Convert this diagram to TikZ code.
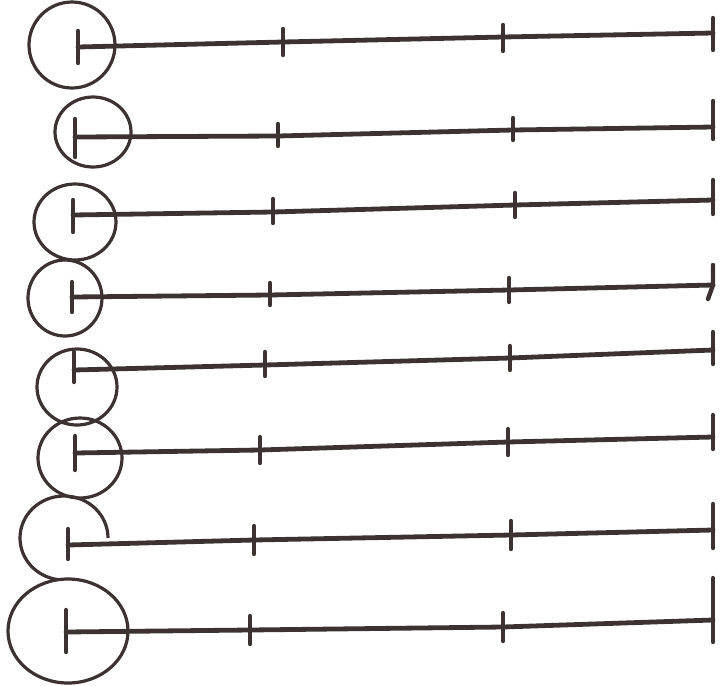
\documentclass[tikz,border=0pt]{standalone}
\usepackage{tikz}
\definecolor{pencil}{HTML}{3C3232}
\tikzset{
    rod/.style={draw=pencil, line width=0.12cm, line cap=round, line join=round},
    notch/.style={draw=pencil, line width=0.11cm, line cap=round, line join=round},
    ring/.style={draw=pencil, line width=0.08cm},
}

\begin{document}
\begin{tikzpicture}[x=0.025cm, y=-0.025cm]
\useasboundingbox (0,0) rectangle (723,685);

% row 1
\coordinate (s1) at (78,47);
\coordinate (a1) at (283,42);
\coordinate (b1) at (503,37);
\coordinate (e1) at (713,33);
\draw[ring] (72,45) circle[radius=43];
\draw[rod] (s1) -- (a1) -- (b1) -- (e1);
\draw[notch] (s1) ++(0,-16) -- ++(0,32);
\draw[notch] (a1) ++(0,-13) -- ++(0,26);
\draw[notch] (b1) ++(0,-12) -- ++(0,26);
\draw[notch] (e1) ++(0,-15) -- ++(0,32);

% row 2
\coordinate (s2) at (75,137);
\coordinate (a2) at (278,136);
\coordinate (b2) at (513,130);
\coordinate (e2) at (713,127);
\draw[ring] (93,132) ellipse[x radius=38, y radius=35];
\draw[rod] (s2) -- (a2) -- (b2) -- (e2);
\draw[notch] (s2) ++(0,-18) -- ++(0,38);
\draw[notch] (a2) ++(0,-12) -- ++(0,22);
\draw[notch] (b2) ++(0,-12) -- ++(0,22);
\draw[notch] (e2) ++(0,-26) -- ++(0,38);

% row 3
\coordinate (s3) at (73,215);
\coordinate (a3) at (273,212);
\coordinate (b3) at (515,205);
\coordinate (e3) at (713,200);
\draw[ring] (75,222) ellipse[x radius=41, y radius=38];
\draw[rod] (s3) -- (a3) -- (b3) -- (e3);
\draw[notch] (s3) ++(0,-15) -- ++(0,32);
\draw[notch] (a3) ++(0,-13) -- ++(0,24);
\draw[notch] (b3) ++(0,-12) -- ++(0,24);
\draw[notch] (e3) ++(0,-20) -- ++(0,34);

% row 4
\coordinate (s4) at (72,297);
\coordinate (a4) at (270,295);
\coordinate (b4) at (509,290);
\coordinate (e4) at (713,285);
\draw[ring] (65,298) ellipse[x radius=37, y radius=38];
\draw[rod] (s4) -- (a4) -- (b4) -- (e4);
\draw[notch] (s4) ++(0,-15) -- ++(0,30);
\draw[notch] (a4) ++(0,-12) -- ++(0,22);
\draw[notch] (b4) ++(0,-12) -- ++(0,24);
\draw[notch] (e4) ++(0,-20) -- ++(0,20) -- ++(-5,14);

% row 5
\coordinate (s5) at (74,370);
\coordinate (a5) at (265,365);
\coordinate (b5) at (510,358);
\coordinate (e5) at (713,350);
\draw[ring] (77,387) ellipse[x radius=40, y radius=38];
\draw[rod] (s5) -- (a5) -- (b5) -- (e5);
\draw[notch] (s5) ++(0,-18) -- ++(0,30);
\draw[notch] (a5) ++(0,-13) -- ++(0,24);
\draw[notch] (b5) ++(0,-12) -- ++(0,24);
\draw[notch] (e5) ++(0,-18) -- ++(0,32);

% row 6
\coordinate (s6) at (75,453);
\coordinate (a6) at (260,450);
\coordinate (b6) at (508,442);
\coordinate (e6) at (713,437);
\draw[ring] (80,458) ellipse[x radius=42, y radius=40];
\draw[rod] (s6) -- (a6) -- (b6) -- (e6);
\draw[notch] (s6) ++(0,-17) -- ++(0,34);
\draw[notch] (a6) ++(0,-13) -- ++(0,26);
\draw[notch] (b6) ++(0,-13) -- ++(0,26);
\draw[notch] (e6) ++(0,-22) -- ++(0,34);

% row 7
\coordinate (s7) at (68,545);
\coordinate (a7) at (254,540);
\coordinate (b7) at (511,535);
\coordinate (e7) at (713,530);
\draw[ring] (108,538) arc[start angle=0, end angle=-262, x radius=44, y radius=42];
\draw[rod] (s7) -- (a7) -- (b7) -- (e7);
\draw[notch] (s7) ++(0,-16) -- ++(0,30);
\draw[notch] (a7) ++(0,-14) -- ++(0,28);
\draw[notch] (b7) ++(0,-14) -- ++(0,28);
\draw[notch] (e7) ++(0,-26) -- ++(0,44);

% row 8
\coordinate (s8) at (66,632);
\coordinate (a8) at (250,630);
\coordinate (b8) at (503,627);
\coordinate (e8) at (713,620);
\draw[ring] (68,631) ellipse[x radius=60, y radius=52];
\draw[rod] (s8) -- (a8) -- (b8) -- (e8);
\draw[notch] (s8) ++(0,-22) -- ++(0,42);
\draw[notch] (a8) ++(0,-14) -- ++(0,28);
\draw[notch] (b8) ++(0,-14) -- ++(0,28);
\draw[notch] (e8) ++(0,-42) -- ++(0,64);
\end{tikzpicture}
\end{document}
